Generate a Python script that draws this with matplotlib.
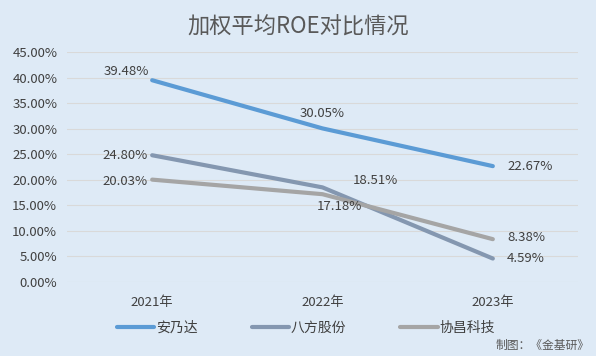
import matplotlib
matplotlib.use('Agg')
import matplotlib.pyplot as plt
from matplotlib.ticker import FuncFormatter

plt.rcParams['font.family'] = ['Noto Sans CJK SC', 'DejaVu Sans']

# 数据
years = ['2021年', '2022年', '2023年']
anaida = [39.48, 30.05, 22.67]
bafang = [24.80, 18.51, 4.59]
xiechang = [20.03, 17.18, 8.38]
yticks = [0, 5, 10, 15, 20, 25, 30, 35, 40, 45]

BG = '#DEEAF6'
TXT = '#404040'

fig = plt.figure(figsize=(5.96, 3.56), dpi=100, facecolor=BG)
ax = fig.add_axes([67 / 596, 1 - 282 / 356, (578 - 67) / 596, (282 - 52) / 356])
ax.set_facecolor(BG)

x = list(range(len(years)))
series = [
    ('安乃达', anaida, '#5B9BD5'),
    ('八方股份', bafang, '#8497B0'),
    ('协昌科技', xiechang, '#A5A5A5'),
]
for name, vals, color in series:
    ax.plot(x, vals, color=color, linewidth=3, label=name, solid_capstyle='round')

# 数据标签位置（偏移pt, 对齐）
offsets = {
    '安乃达': [(-2, 6, 'right'), (0, 11, 'center'), (27, 0, 'center')],
    '八方股份': [(-3, 0, 'right'), (38, 5, 'center'), (24, 0, 'center')],
    '协昌科技': [(-3, -1, 'right'), (12, -9, 'center'), (24, 1, 'center')],
}
for name, vals, color in series:
    for i, v in enumerate(vals):
        dx, dy, ha = offsets[name][i]
        ax.annotate(f'{v:.2f}%', (i, v), xytext=(dx, dy), textcoords='offset points',
                    ha=ha, va='center', fontsize=9.5, color=TXT)

ax.set_xlim(-0.5, 2.5)
ax.set_ylim(0, 45)
ax.set_xticks(x)
ax.set_xticklabels(years)
ax.set_yticks(yticks)
ax.yaxis.set_major_formatter(FuncFormatter(lambda v, p: f'{v:.2f}%'))
ax.tick_params(axis='both', length=0, labelsize=9.5, labelcolor=TXT)
ax.tick_params(axis='x', pad=10)
ax.tick_params(axis='y', pad=7)
ax.grid(axis='y', color='#D9D9D9', linewidth=0.8)
ax.set_axisbelow(True)
for s in ax.spines.values():
    s.set_visible(False)

fig.text(0.5, 1 - 27 / 356, '加权平均ROE对比情况', ha='center', va='center', fontsize=16, color='#595959')

fig.legend(loc='center', bbox_to_anchor=(0.513, 1 - 328 / 356), ncol=3, frameon=False,
           fontsize=10, labelcolor=TXT, handlelength=2.7, handletextpad=0.1, columnspacing=3.9)

fig.text(590 / 596, 1 - 345 / 356, '制图：《金基研》', ha='right', va='center', fontsize=8.5, color='#595959')

fig.savefig('out.png', dpi=100, facecolor=BG)
